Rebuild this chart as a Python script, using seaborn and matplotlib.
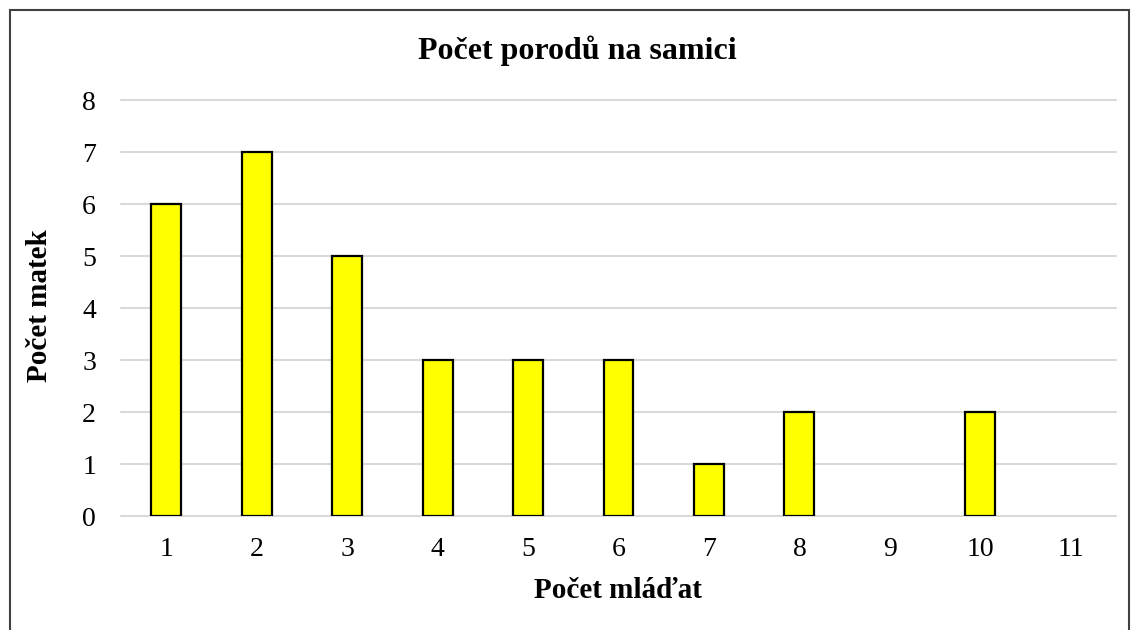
import matplotlib
matplotlib.use("Agg")
import matplotlib.pyplot as plt
import seaborn as sns
import pandas as pd
from matplotlib.patches import Rectangle

# number of young per litter vs. number of mothers
mladata = ["1", "2", "3", "4", "5", "6", "7", "8", "9", "10", "11"]
matky = [6, 7, 5, 3, 3, 3, 1, 2, 0, 2, 0]

df = pd.DataFrame({"mladata": mladata, "matky": matky})

sns.set_style("white")
plt.rcParams["font.family"] = ["Liberation Serif", "DejaVu Serif"]
plt.rcParams["text.color"] = "black"
plt.rcParams["xtick.color"] = "black"
plt.rcParams["ytick.color"] = "black"

fig = plt.figure(figsize=(11.32, 6.3), dpi=100)
ax = fig.add_axes([121 / 1132, 1 - 516 / 630, 995 / 1132, 416 / 630])

sns.barplot(data=df, x="mladata", y="matky", color="#ffff00",
            edgecolor="black", linewidth=1.6, width=0.33, saturation=1, ax=ax,
            zorder=3)
# empty categories should show nothing, not a flat outline
for bar in ax.patches:
    if bar.get_height() == 0:
        bar.set_visible(False)

ax.set_ylim(0, 8)
ax.set_yticks(range(0, 9))
ax.set_xlim(-0.5, len(mladata) - 0.5)
ax.yaxis.grid(True, color="#d9d9d9", linewidth=1.5, zorder=0)
for gl in ax.get_ygridlines():
    gl.set_clip_on(False)
ax.set_axisbelow(True)
for s in ax.spines.values():
    s.set_visible(False)
ax.tick_params(axis="both", length=0, labelsize=20, labelcolor="black")
ax.tick_params(axis="y", pad=18)
ax.tick_params(axis="x", pad=15)
ax.set_xlabel("")
ax.set_ylabel("")

fig.text(577 / 1132, 1 - 51 / 630, "Počet porodů na samici", ha="center",
         va="center", fontsize=23, fontweight="bold", color="black")
fig.text(618 / 1132, 1 - 590 / 630, "Počet mláďat", ha="center",
         va="center", fontsize=21, fontweight="bold", color="black")
fig.text(40 / 1132, 1 - 306 / 630, "Počet matek", ha="center",
         va="center", fontsize=21, fontweight="bold", rotation=90,
         color="black")

# outer frame, cut off at the bottom like the source
fig.patches.append(Rectangle((9.5 / 1132, -0.1), 1119 / 1132, 1.1 - 10.5 / 630,
                             transform=fig.transFigure, fill=False,
                             edgecolor="#404040", linewidth=1.5))

fig.savefig("out.png", dpi=100)
